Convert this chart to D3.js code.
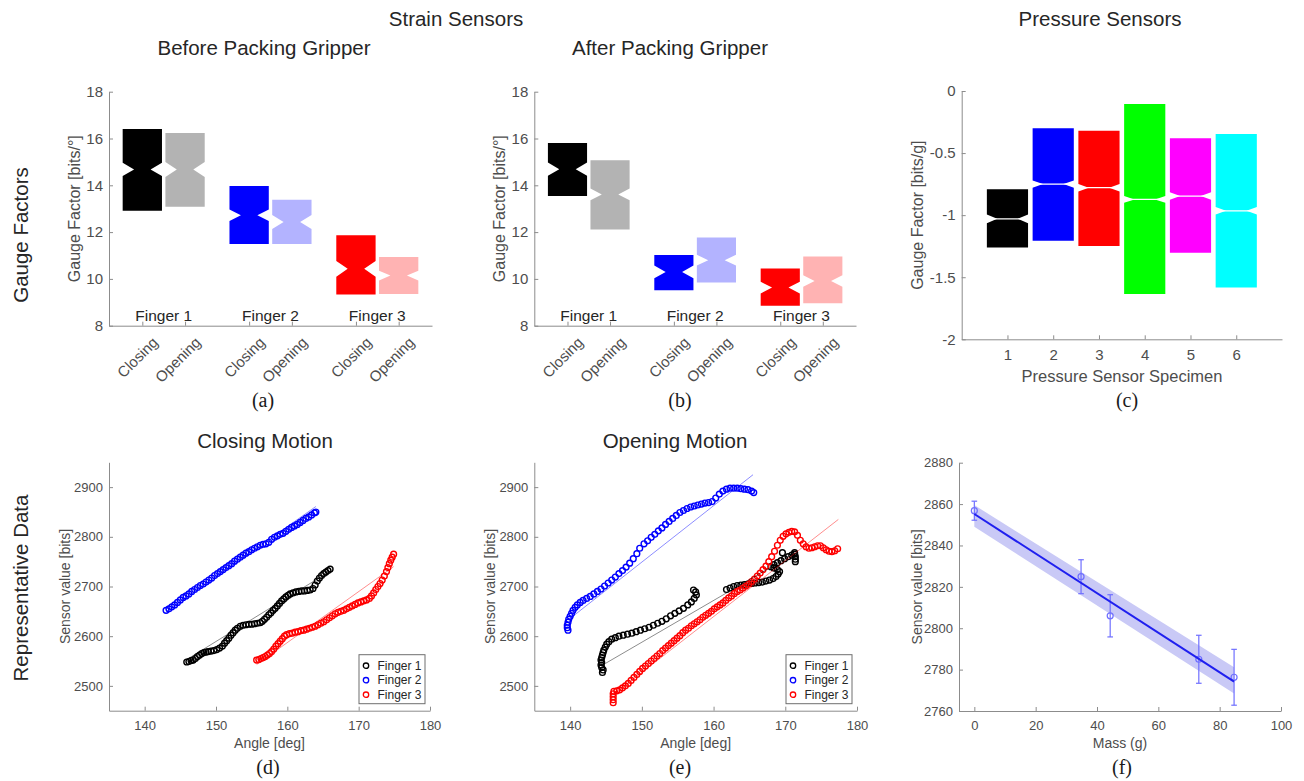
<!DOCTYPE html>
<html>
<head>
<meta charset="utf-8">
<script src="https://cdn.jsdelivr.net/npm/d3@7"></script>
<style>
body { margin: 0; background: #fff; }
</style>
</head>
<body>
<div id="chart"></div>
<script>
// ---------- data ----------
var strainCategories = ["Closing", "Opening", "Closing", "Opening", "Closing", "Opening"];
var strainPositions = [1, 2, 3.5, 4.5, 6, 7];
var fingerNames = ["Finger 1", "Finger 2", "Finger 3"];
var fingerPositions = [1.5, 4, 6.5];
var strainColors = ["#000000", "#b3b3b3", "#0000ff", "#b3b3ff", "#ff0000", "#ffb3b3"];

// [lower quartile, median, upper quartile, notch half-height]
var beforeBoxes = [
    [12.91, 14.68, 16.41, 0.28], [13.08, 14.68, 16.24, 0.32],
    [11.49, 12.72, 13.97, 0.25], [11.49, 12.43, 13.38, 0.30],
    [9.33, 10.43, 11.87, 0.34], [9.36, 10.14, 10.94, 0.21]
];
var afterBoxes = [
    [13.54, 14.69, 15.81, 0.28], [12.11, 13.61, 15.07, 0.25],
    [9.52, 10.30, 11.02, 0.27], [9.85, 10.80, 11.77, 0.23],
    [8.85, 9.63, 10.44, 0.25], [8.96, 9.91, 10.96, 0.25]
];

var pressureSpecimens = [1, 2, 3, 4, 5, 6];
var pressureColors = ["#000000", "#0000ff", "#ff0000", "#00ff00", "#ff00ff", "#00ffff"];
var pressureBoxes = [
    [-1.26, -1.03, -0.792, 0.035], [-1.206, -0.75, -0.30, 0.03],
    [-1.249, -0.779, -0.32, 0.03], [-1.636, -0.873, -0.105, 0.027],
    [-1.303, -0.846, -0.381, 0.03], [-1.582, -0.965, -0.347, 0.03]
];

var gaugeTicks = [8, 10, 12, 14, 16, 18];
var pressureTicks = [-2, -1.5, -1, -0.5, 0];
var angleTicks = [140, 150, 160, 170, 180];
var sensorTicks = [2500, 2600, 2700, 2800, 2900];
var massTicks = [0, 20, 40, 60, 80, 100];
var massSensorTicks = [2760, 2780, 2800, 2820, 2840, 2860, 2880];

var seriesNames = ["Finger 1", "Finger 2", "Finger 3"];
var seriesColors = ["#000000", "#0000ff", "#ff0000"];

// closing motion [angle, sensor value]
var closingF1 = [[145.9,2548],[146.2,2549],[146.5,2551],[146.8,2552],[147.1,2555],[147.4,2559],[147.7,2562],[148.0,2565],[148.3,2567],[148.6,2568],[148.9,2569],[149.3,2570],[149.7,2571],[150.1,2573],[150.5,2576],[150.9,2580],[151.2,2586],[151.5,2591],[151.8,2596],[152.1,2602],[152.4,2607],[152.7,2612],[153.0,2616],[153.4,2620],[153.8,2622],[154.2,2623],[154.6,2624],[155.0,2624],[155.4,2625],[155.8,2626],[156.2,2627],[156.5,2630],[156.8,2634],[157.1,2638],[157.4,2643],[157.7,2647],[158.0,2652],[158.3,2656],[158.6,2661],[158.9,2666],[159.2,2671],[159.5,2675],[159.8,2679],[160.1,2682],[160.4,2685],[160.8,2687],[161.2,2689],[161.6,2690],[162.0,2691],[162.4,2691],[162.8,2692],[163.2,2693],[163.6,2696],[163.9,2703],[164.2,2711],[164.5,2717],[164.8,2722],[165.1,2726],[165.4,2729],[165.7,2732],[166.0,2735]];
var closingF2 = [[143.0,2652],[143.4,2655],[143.8,2659],[144.2,2663],[144.6,2668],[145.0,2673],[145.4,2678],[145.8,2681],[146.2,2685],[146.6,2690],[147.0,2694],[147.4,2698],[147.8,2702],[148.2,2705],[148.6,2709],[149.0,2713],[149.4,2717],[149.8,2722],[150.2,2726],[150.6,2730],[151.0,2734],[151.4,2738],[151.8,2742],[152.2,2746],[152.6,2751],[153.0,2755],[153.4,2759],[153.8,2763],[154.2,2767],[154.6,2770],[155.0,2774],[155.4,2777],[155.8,2780],[156.2,2783],[156.6,2785],[157.0,2786],[157.4,2789],[157.8,2795],[158.2,2799],[158.6,2802],[159.0,2805],[159.4,2807],[159.8,2811],[160.2,2815],[160.6,2819],[161.0,2822],[161.4,2825],[161.8,2829],[162.2,2833],[162.6,2837],[163.0,2840],[163.4,2844],[163.8,2848],[164.0,2850]];
var closingF3 = [[155.7,2552],[156.0,2553],[156.3,2555],[156.6,2557],[156.9,2559],[157.2,2562],[157.5,2565],[157.8,2569],[158.1,2574],[158.4,2580],[158.7,2585],[159.0,2590],[159.3,2595],[159.6,2600],[159.9,2603],[160.3,2605],[160.7,2606],[161.1,2608],[161.5,2609],[161.9,2611],[162.3,2612],[162.7,2614],[163.1,2616],[163.5,2618],[163.9,2620],[164.3,2623],[164.7,2626],[165.1,2629],[165.5,2633],[165.9,2637],[166.3,2641],[166.7,2645],[167.1,2648],[167.5,2650],[167.9,2652],[168.3,2655],[168.7,2658],[169.1,2661],[169.5,2664],[169.9,2667],[170.3,2669],[170.7,2671],[171.1,2673],[171.5,2676],[171.8,2681],[172.1,2687],[172.4,2694],[172.7,2700],[173.0,2706],[173.3,2713],[173.6,2721],[173.9,2730],[174.1,2738],[174.3,2746],[174.5,2753],[174.7,2759],[174.9,2765]];
var closingFits = [[[145.9, 2553], [166.0, 2731]], [[143.0, 2649], [164.0, 2861]], [[155.7, 2543], [174.9, 2740]]];

// opening motion [angle, sensor value]
var openingF1 = [[144.5,2527],[144.6,2532],[144.4,2537],[144.3,2542],[144.4,2547],[144.3,2552],[144.4,2557],[144.5,2562],[144.6,2567],[144.7,2572],[144.9,2578],[145.1,2584],[145.4,2589],[145.8,2594],[146.3,2597],[146.8,2600],[147.4,2602],[148.0,2604],[148.6,2606],[149.2,2609],[149.8,2612],[150.4,2615],[151.0,2618],[151.6,2622],[152.2,2626],[152.8,2630],[153.4,2635],[154.0,2641],[154.6,2646],[155.2,2651],[155.8,2656],[156.4,2663],[156.9,2669],[157.3,2676],[157.6,2683],[157.5,2689],[157.2,2693],
    [161.8,2694],[162.3,2697],[162.8,2700],[163.3,2702],[163.8,2703],[164.3,2704],[164.8,2705],[165.3,2706],[165.8,2707],[166.3,2708],[166.8,2709],[167.3,2711],[167.8,2713],[168.3,2716],[168.7,2720],[169.0,2725],[169.2,2730],[168.9,2734],[168.4,2737],[168.0,2740],[168.4,2744],[168.9,2748],[169.4,2752],[169.9,2756],[170.4,2760],[170.9,2763],[171.3,2765],[171.4,2760],[171.4,2755],[171.4,2750],[171.3,2768],[169.6,2768]];
var openingF2 = [[139.7,2612],[139.6,2617],[139.6,2622],[139.7,2628],[139.8,2634],[140.0,2640],[140.2,2646],[140.4,2652],[140.7,2658],[141.0,2663],[141.4,2668],[141.8,2672],[142.3,2676],[142.8,2680],[143.3,2685],[143.8,2690],[144.3,2695],[144.8,2701],[145.3,2707],[145.8,2713],[146.3,2719],[146.8,2726],[147.3,2732],[147.8,2739],[148.3,2747],[148.8,2756],[149.3,2766],[149.7,2777],[150.3,2786],[150.8,2792],[151.3,2799],[151.8,2805],[152.3,2812],[152.8,2818],[153.3,2825],[153.8,2831],[154.3,2837],[154.8,2843],[155.3,2849],[155.8,2853],[156.3,2857],[156.8,2860],[157.3,2862],[157.8,2864],[158.3,2866],[158.8,2868],[159.3,2869],[159.8,2871],[160.3,2878],[160.8,2886],[161.3,2892],[161.8,2896],[162.3,2898],[162.8,2898],[163.3,2898],[163.8,2897],[164.3,2896],[164.8,2895],[165.3,2892],[165.6,2889]];
var openingF3 = [[146.0,2466],[146.0,2472],[146.0,2478],[146.0,2484],[146.1,2489],[146.5,2490],[146.9,2492],[147.3,2496],[147.7,2500],[148.1,2505],[148.5,2511],[148.9,2517],[149.3,2523],[149.7,2529],[150.1,2535],[150.5,2540],[150.9,2545],[151.3,2550],[151.7,2555],[152.1,2560],[152.5,2565],[152.9,2571],[153.3,2576],[153.7,2581],[154.1,2586],[154.5,2591],[154.9,2596],[155.3,2601],[155.7,2607],[156.1,2612],[156.5,2616],[156.9,2621],[157.3,2625],[157.7,2629],[158.1,2633],[158.5,2638],[158.9,2642],[159.3,2646],[159.7,2650],[160.1,2655],[160.5,2659],[160.9,2663],[161.3,2667],[161.7,2672],[162.1,2677],[162.5,2681],[162.9,2686],[163.3,2690],[163.7,2693],[164.1,2697],[164.5,2701],[164.9,2705],[165.3,2710],[165.7,2715],[166.1,2721],[166.5,2727],[166.9,2734],[167.3,2741],[167.7,2750],[168.1,2760],[168.5,2771],[168.9,2783],[169.3,2793],[169.7,2801],[170.1,2806],[170.5,2809],[170.9,2811],[171.3,2810],[171.7,2803],[172.1,2793],[172.5,2786],[172.9,2780],[173.3,2777],[173.7,2778],[174.1,2780],[174.5,2782],[174.9,2782],[175.3,2778],[175.7,2774],[176.1,2771],[176.5,2770],[176.9,2772],[177.3,2776]];
var openingFits = [[[144.9, 2545], [171.2, 2766]], [[140.2, 2638], [165.5, 2925]], [[146.0, 2482], [177.4, 2835]]];

// pressure calibration
var massValues = [0, 34.8, 44.3, 73.2, 84.7];
var massMeans = [2856.8, 2824.9, 2806.0, 2785.0, 2776.3];
var massErrors = [4.6, 8.2, 10.2, 11.6, 13.5];
var massFitX = [0, 84.7];
var massFitY = [2855.2, 2774.2];
var massBandLow = [2849.0, 2768.5];
var massBandHigh = [2859.5, 2781.1];

// ---------- drawing ----------
var svg = d3.select("#chart").append("svg")
    .attr("width", 1304)
    .attr("height", 781)
    .style("font-family", "Arial, 'Liberation Sans', sans-serif");

var axisColor = "#8c8c8c",
    tickTextColor = "#4d4d4d",
    darkText = "#262626";

function styleAxis(g, fontSize) {
    g.attr("font-size", null).attr("font-family", null);
    g.select(".domain").attr("stroke", axisColor);
    g.selectAll(".tick line").attr("stroke", axisColor);
    g.selectAll(".tick text").attr("fill", tickTextColor).style("font-size", fontSize + "px");
}

function addAxes(x, y, xTicks, yTicks, fontSize, showXLabels) {
    var xg = svg.append("g")
        .attr("transform", "translate(0," + y.range()[0] + ")")
        .call(d3.axisBottom(x).tickValues(xTicks).tickSizeInner(-4).tickSizeOuter(0)
            .tickPadding(10).tickFormat(showXLabels ? function (d) { return String(d); } : ""));
    styleAxis(xg, fontSize);

    var yg = svg.append("g")
        .attr("transform", "translate(" + x.range()[0] + ",0)")
        .call(d3.axisLeft(y).tickValues(yTicks).tickSizeInner(-4).tickSizeOuter(0)
            .tickPadding(6).tickFormat(function (d) { return String(d); }));
    styleAxis(yg, fontSize);
}

function yLabel(x, y, text, size) {
    var cy = (y.range()[0] + y.range()[1]) / 2;
    svg.append("text")
        .attr("transform", "translate(" + x + "," + cy + ") rotate(-90)")
        .attr("text-anchor", "middle")
        .attr("dominant-baseline", "central")
        .attr("fill", tickTextColor)
        .style("font-size", size + "px")
        .text(text);
}

function centerText(x, y, text, size, color, family) {
    var t = svg.append("text")
        .attr("x", x).attr("y", y)
        .attr("text-anchor", "middle")
        .attr("dominant-baseline", "central")
        .attr("fill", color)
        .style("font-size", size + "px")
        .text(text);
    if (family) t.style("font-family", family);
    return t;
}

function notchPath(x, y, center, halfWidth, box, depthFrac) {
    var l = center - halfWidth, r = center + halfWidth;
    var depth = (x(r) - x(l)) * depthFrac;
    var pts = [
        [x(l), y(box[0])], [x(r), y(box[0])],
        [x(r), y(box[1] - box[3])], [x(r) - depth, y(box[1])], [x(r), y(box[1] + box[3])],
        [x(r), y(box[2])], [x(l), y(box[2])],
        [x(l), y(box[1] + box[3])], [x(l) + depth, y(box[1])], [x(l), y(box[1] - box[3])]
    ];
    return "M" + pts.map(function (p) { return p.join(","); }).join("L") + "Z";
}

function drawStrainPanel(x0, x1, boxes) {
    var x = d3.scaleLinear().domain([0.22, 7.78]).range([x0, x1]);
    var y = d3.scaleLinear().domain([8, 18]).range([325.7, 91.7]);

    svg.append("g").selectAll("path")
        .data(boxes)
        .join("path")
        .attr("d", function (d, i) { return notchPath(x, y, strainPositions[i], 0.46, d, 0.29); })
        .attr("fill", function (d, i) { return strainColors[i]; });

    addAxes(x, y, strainPositions, gaugeTicks, 15, false);

    svg.append("g").selectAll("text")
        .data(strainCategories)
        .join("text")
        .attr("transform", function (d, i) {
            return "translate(" + (x(strainPositions[i]) + 9) + "," + (y.range()[0] + 10) + ") rotate(-45)";
        })
        .attr("text-anchor", "end")
        .attr("dy", "0.72em")
        .attr("fill", tickTextColor)
        .style("font-size", "15px")
        .text(function (d) { return d; });

    svg.append("g").selectAll("text")
        .data(fingerNames)
        .join("text")
        .attr("x", function (d, i) { return x(fingerPositions[i]); })
        .attr("y", 320.5)
        .attr("text-anchor", "middle")
        .attr("fill", darkText)
        .style("font-size", "15.5px")
        .text(function (d) { return d; });

    yLabel(x0 - 35, y, "Gauge Factor [bits/°]", 16);
}

function drawPressurePanel() {
    var x = d3.scaleLinear().domain([0, 7]).range([961.7, 1282]);
    var y = d3.scaleLinear().domain([-2, 0]).range([339.3, 91]);

    var g = svg.append("g");
    g.selectAll("path")
        .data(pressureBoxes)
        .join("path")
        .attr("d", function (d, i) { return notchPath(x, y, pressureSpecimens[i], 0.45, d, 0.25); })
        .attr("fill", function (d, i) { return pressureColors[i]; });
    g.selectAll("line")
        .data(pressureBoxes)
        .join("line")
        .attr("x1", function (d, i) { return x(pressureSpecimens[i] - 0.45); })
        .attr("x2", function (d, i) { return x(pressureSpecimens[i] + 0.45); })
        .attr("y1", function (d) { return y(d[1]); })
        .attr("y2", function (d) { return y(d[1]); })
        .attr("stroke", "#fff")
        .attr("stroke-width", 1.2);

    addAxes(x, y, pressureSpecimens, pressureTicks, 15, true);
    yLabel(917, y, "Gauge Factor [bits/g]", 16);
    centerText(1122, 376, "Pressure Sensor Specimen", 16.5, tickTextColor);
}

function drawMotionPanel(x0, x1, seriesList, fits, title, titleX) {
    var x = d3.scaleLinear().domain([135, 180]).range([x0, x1]);
    var y = d3.scaleLinear().domain([2450, 2950]).range([710.7, 462.3]);

    seriesList.forEach(function (series, i) {
        svg.append("g").selectAll("circle")
            .data(series)
            .join("circle")
            .attr("cx", function (d) { return x(d[0]); })
            .attr("cy", function (d) { return y(d[1]); })
            .attr("r", 2.9)
            .attr("fill", "none")
            .attr("stroke", seriesColors[i])
            .attr("stroke-width", 1.4);
    });

    var line = d3.line()
        .x(function (d) { return x(d[0]); })
        .y(function (d) { return y(d[1]); });
    fits.forEach(function (fit, i) {
        svg.append("path")
            .attr("d", line(fit))
            .attr("fill", "none")
            .attr("stroke", seriesColors[i])
            .attr("stroke-opacity", 0.45)
            .attr("stroke-width", 1);
    });

    addAxes(x, y, angleTicks, sensorTicks, 13, true);
    yLabel(x0 - 44, y, "Sensor value [bits]", 14);
    centerText((x0 + x1) / 2, 742.7, "Angle [deg]", 14, tickTextColor);
    centerText(titleX, 440.7, title, 20.5, darkText);

    // legend
    var lw = 66, lh = 49;
    var lx = x1 - 5 - lw, ly = 710.7 - 7 - lh;
    var leg = svg.append("g").attr("transform", "translate(" + lx + "," + ly + ")");
    leg.append("rect")
        .attr("width", lw).attr("height", lh)
        .attr("fill", "#fff")
        .attr("stroke", "#6e6e6e")
        .attr("stroke-width", 1);
    seriesNames.forEach(function (name, i) {
        var cy = 11 + i * 14.5;
        leg.append("circle")
            .attr("cx", 7).attr("cy", cy).attr("r", 2.7)
            .attr("fill", "none")
            .attr("stroke", seriesColors[i])
            .attr("stroke-width", 1.3);
        leg.append("text")
            .attr("x", 18.5).attr("y", cy)
            .attr("dominant-baseline", "central")
            .attr("fill", darkText)
            .style("font-size", "12px")
            .text(name);
    });
}

function drawMassPanel() {
    var x = d3.scaleLinear().domain([-5, 100]).range([959, 1281]);
    var y = d3.scaleLinear().domain([2760, 2880]).range([711, 462.7]);

    var band = d3.area()
        .x(function (d, i) { return x(massFitX[i]); })
        .y0(function (d, i) { return y(massBandLow[i]); })
        .y1(function (d, i) { return y(massBandHigh[i]); });
    svg.append("path")
        .attr("d", band(massFitX))
        .attr("fill", "#c9c9f6");

    var errColor = "#6f6fff";
    var eg = svg.append("g");
    massValues.forEach(function (m, i) {
        var cx = x(m), top = y(massMeans[i] + massErrors[i]), bot = y(massMeans[i] - massErrors[i]);
        eg.append("line").attr("x1", cx).attr("x2", cx).attr("y1", top).attr("y2", bot)
            .attr("stroke", errColor).attr("stroke-width", 1.2);
        [top, bot].forEach(function (yy) {
            eg.append("line").attr("x1", cx - 2.8).attr("x2", cx + 2.8).attr("y1", yy).attr("y2", yy)
                .attr("stroke", errColor).attr("stroke-width", 1.2);
        });
        eg.append("circle").attr("cx", cx).attr("cy", y(massMeans[i])).attr("r", 3)
            .attr("fill", "none").attr("stroke", errColor).attr("stroke-width", 1.2);
    });

    var fitLine = d3.line()
        .x(function (d, i) { return x(massFitX[i]); })
        .y(function (d) { return y(d); });
    svg.append("path")
        .attr("d", fitLine(massFitY))
        .attr("fill", "none")
        .attr("stroke", "#1f1fef")
        .attr("stroke-width", 2);

    addAxes(x, y, massTicks, massSensorTicks, 13, true);
    yLabel(916.7, y, "Sensor value [bits]", 14);
    centerText(1120, 742.7, "Mass (g)", 14, tickTextColor);
}

// titles and row labels
centerText(456, 18, "Strain Sensors", 20.5, darkText);
centerText(1100, 18, "Pressure Sensors", 20.5, darkText);
centerText(264, 47, "Before Packing Gripper", 20.5, darkText);
centerText(670, 47, "After Packing Gripper", 20.5, darkText);

svg.append("text")
    .attr("transform", "translate(20,235) rotate(-90)")
    .attr("text-anchor", "middle").attr("dominant-baseline", "central")
    .attr("fill", darkText).style("font-size", "20.5px")
    .text("Gauge Factors");
svg.append("text")
    .attr("transform", "translate(20,588) rotate(-90)")
    .attr("text-anchor", "middle").attr("dominant-baseline", "central")
    .attr("fill", darkText).style("font-size", "20.5px")
    .text("Representative Data");

drawStrainPanel(109, 432, beforeBoxes);
drawStrainPanel(534.3, 856, afterBoxes);
drawPressurePanel();
drawMotionPanel(109, 430, [closingF1, closingF2, closingF3], closingFits, "Closing Motion", 265);
drawMotionPanel(534.3, 857, [openingF1, openingF2, openingF3], openingFits, "Opening Motion", 675);
drawMassPanel();

var serif = "'Times New Roman', 'Liberation Serif', serif";
[["(a)", 263, 400], ["(b)", 680, 400], ["(c)", 1127, 400],
 ["(d)", 268, 767], ["(e)", 680, 767], ["(f)", 1122, 767]].forEach(function (p) {
    centerText(p[1], p[2], p[0], 20, "#1a1a1a", serif);
});
</script>
</body>
</html>
